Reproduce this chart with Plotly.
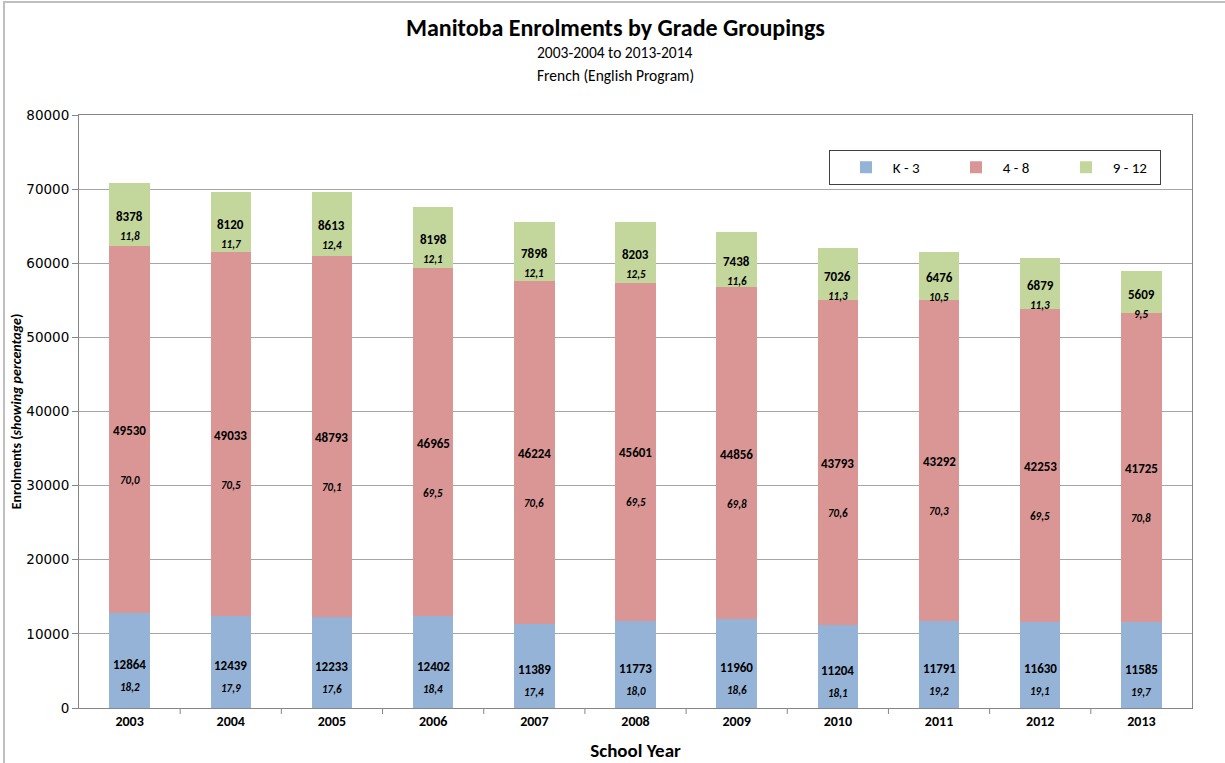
import plotly.graph_objects as go

# School years (start of each year) and enrolment counts by grade grouping
years = ["2003", "2004", "2005", "2006", "2007", "2008", "2009", "2010", "2011", "2012", "2013"]
k3 = [12864, 12439, 12233, 12402, 11389, 11773, 11960, 11204, 11791, 11630, 11585]
g48 = [49530, 49033, 48793, 46965, 46224, 45601, 44856, 43793, 43292, 42253, 41725]
g912 = [8378, 8120, 8613, 8198, 7898, 8203, 7438, 7026, 6476, 6879, 5609]

# Share of each grouping (percent, as printed)
k3_pct = ["18,2", "17,9", "17,6", "18,4", "17,4", "18,0", "18,6", "18,1", "19,2", "19,1", "19,7"]
g48_pct = ["70,0", "70,5", "70,1", "69,5", "70,6", "69,5", "69,8", "70,6", "70,3", "69,5", "70,8"]
g912_pct = ["11,8", "11,7", "12,4", "12,1", "12,1", "12,5", "11,6", "11,3", "10,5", "11,3", "9,5"]

series_names = ["K - 3", "4 - 8", "9 - 12"]
colors = ["#95B3D7", "#D99694", "#C3D69B"]

FONT = "Carlito, Lato, 'Liberation Sans', sans-serif"
TICKFONT = "'DejaVu Sans', Verdana, sans-serif"

W, H = 1225, 763
ML, MR, MT, MB = 79, 33, 115, 55
pw, ph = W - ML - MR, H - MT - MB


def px_x(p):
    return (p - ML) / pw


def px_y(p):
    return (H - MB - p) / ph


xpos = list(range(len(years)))

fig = go.Figure()
for name, vals, col in zip(series_names, [k3, g48, g912], colors):
    fig.add_trace(go.Bar(
        x=xpos, y=vals, name="\u00a0\u00a0" + name,
        marker=dict(color=col, line=dict(width=0)),
        hovertemplate=name + ": %{y}<extra></extra>",
    ))

# Count and percentage labels inside each segment
annotations = []
groups = [(k3, k3_pct, -4, -27), (g48, g48_pct, -1, -51), (g912, g912_pct, -2, -22)]
base = [0] * len(years)
for vals, pcts, cshift, pshift in groups:
    for i in xpos:
        mid = base[i] + vals[i] / 2
        annotations.append(dict(
            x=i, y=mid, xref="x", yref="y", text=f"<b>{vals[i]}</b>",
            showarrow=False, yshift=cshift,
            font=dict(family=FONT, size=13, color="#000000"),
        ))
        annotations.append(dict(
            x=i, y=mid, xref="x", yref="y", text=f"<b><i>{pcts[i]}</i></b>",
            showarrow=False, yshift=pshift,
            font=dict(family=FONT, size=11, color="#000000"),
        ))
    base = [b + v for b, v in zip(base, vals)]

# Title block
annotations += [
    dict(text="<b>Manitoba Enrolments by Grade Groupings</b>", x=px_x(615), y=px_y(28),
         xref="paper", yref="paper", showarrow=False, xanchor="center", yanchor="middle",
         font=dict(family=FONT, size=24, color="#000000")),
    dict(text="2003-2004 to 2013-2014", x=px_x(615), y=px_y(52),
         xref="paper", yref="paper", showarrow=False, xanchor="center", yanchor="middle",
         font=dict(family=FONT, size=15.5, color="#000000")),
    dict(text="French (English Program)", x=px_x(615), y=px_y(75),
         xref="paper", yref="paper", showarrow=False, xanchor="center", yanchor="middle",
         font=dict(family=FONT, size=15.5, color="#000000")),
]

fig.update_layout(
    width=W, height=H,
    margin=dict(l=ML, r=MR, t=MT, b=MB, autoexpand=False),
    barmode="stack",
    bargap=0.6,
    paper_bgcolor="#FFFFFF",
    plot_bgcolor="#FFFFFF",
    annotations=annotations,
    legend=dict(
        orientation="h",
        x=px_x(829), y=px_y(150), xanchor="left", yanchor="top",
        bgcolor="#FFFFFF", bordercolor="#404040", borderwidth=1,
        font=dict(family=FONT, size=15, color="#000000"),
        entrywidth=49, itemsizing="constant", indentation=16,
        traceorder="normal",
    ),
    shapes=[
        dict(type="rect", xref="paper", yref="paper",
             x0=px_x(4), x1=px_x(1240), y0=px_y(780), y1=px_y(2),
             line=dict(color="#BFBFBF", width=2), fillcolor="rgba(0,0,0,0)", layer="below"),
    ],
)

fig.update_xaxes(
    range=[-0.5, len(years) - 0.5],
    tickmode="array", tickvals=xpos, ticktext=[f"<b>{y}</b>" for y in years],
    showgrid=False,
    showline=True, linecolor="#868686", linewidth=1, mirror=True,
    ticks="",
    tickfont=dict(family=FONT, size=14, color="#000000"),
    zeroline=False,
    title=dict(text="<b>School Year</b>", font=dict(family=FONT, size=19, color="#000000"), standoff=14),
)
fig.update_yaxes(
    range=[0, 80000], dtick=10000,
    showgrid=True, gridcolor="#A6A6A6", gridwidth=1,
    showline=True, linecolor="#868686", linewidth=1, mirror=True,
    ticks="outside", ticklen=6, tickcolor="#868686",
    tickfont=dict(family=TICKFONT, size=13.5, color="#000000"),
    tickformat="d",
    zeroline=False,
    title=dict(text="<b>Enrolments (<i>showing percentage</i>)</b>",
               font=dict(family=FONT, size=14, color="#000000"), standoff=1),
)

# Category boundary tick marks below the x axis
for b in range(1, len(years)):
    fig.add_shape(type="line", xref="x", yref="paper", x0=b - 0.5, x1=b - 0.5,
                  y0=0, y1=-6 / ph, line=dict(color="#868686", width=1))

fig.write_html("out.html")
